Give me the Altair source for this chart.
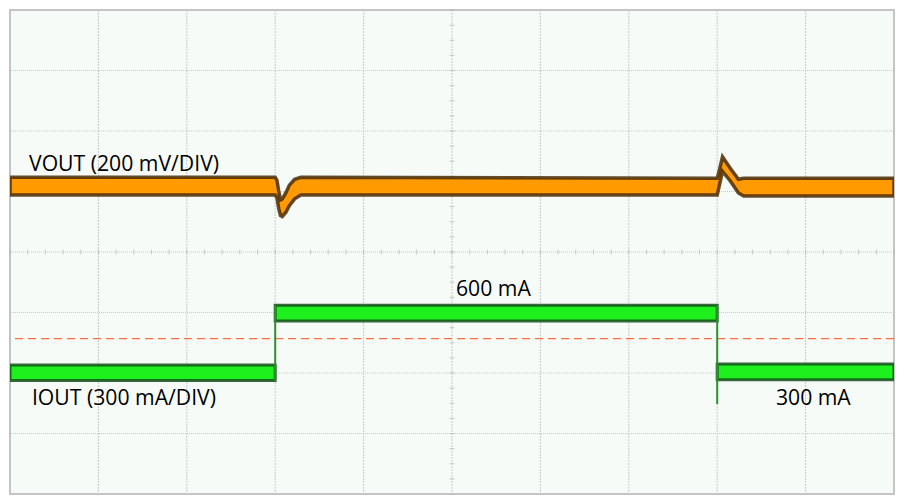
import altair as alt
import pandas as pd

# ---- data (in screen divisions: x 0..10, y 0..8) ----
# VOUT trace band: time, upper edge, lower edge
vout_t   = [0.0, 3.0, 3.02, 3.04, 3.06, 3.08, 3.12, 3.16, 3.22, 3.29, 8.0, 8.01, 8.06, 8.15, 8.24, 8.30, 10.0]
vout_top = [5.234, 5.234, 5.186, 5.008, 4.863, 4.879, 4.976, 5.105, 5.202, 5.234, 5.218, 5.267, 5.573, 5.380, 5.202, 5.218, 5.218]
vout_bot = [4.943, 4.943, 4.895, 4.717, 4.604, 4.588, 4.653, 4.766, 4.879, 4.943, 4.943, 5.008, 5.331, 5.170, 4.976, 4.927, 4.927]

# IOUT trace band: segments
iout_seg = ["low1", "low1", "high", "high", "low2", "low2"]
iout_t   = [0.0, 3.0, 3.0, 8.0, 8.0, 10.0]
iout_top = [2.132, 2.132, 3.118, 3.118, 2.149, 2.149]
iout_bot = [1.874, 1.874, 2.859, 2.859, 1.890, 1.890]

# load-step edges: time, from, to
step_t    = [3.0, 8.0]
step_from = [1.874, 1.486]
step_to   = [3.118, 3.118]

trigger_level = [2.569]

label_text = ["VOUT (200 mV/DIV)", "IOUT (300 mA/DIV)", "600 mA", "300 mA"]
label_x    = [0.215, 0.248, 5.045, 8.664]
label_y    = [5.347, 1.470, 3.280, 1.470]

vgrid = [1, 2, 3, 4, 5, 6, 7, 8, 9]
hgrid = [1, 2, 3, 4, 5, 6, 7]
xminor = [round(i * 0.2, 2) for i in range(51)]
yminor = [round(i * 0.25, 2) for i in range(33)]
center_x = 5
center_y = 4

xs = alt.Scale(domain=[0, 10], nice=False, zero=False)
ys = alt.Scale(domain=[0, 8], nice=False, zero=False)

grid_col = "#c9c9c9"

vg = alt.Chart(pd.DataFrame({"x": vgrid})).mark_rule(
    color=grid_col, strokeDash=[2, 1], strokeWidth=1
).encode(x=alt.X("x:Q", scale=xs, axis=None))

hg = alt.Chart(pd.DataFrame({"y": hgrid})).mark_rule(
    color=grid_col, strokeDash=[1, 1], strokeWidth=1
).encode(y=alt.Y("y:Q", scale=ys, axis=None))

xt = alt.Chart(pd.DataFrame({"x": xminor, "y": [center_y] * len(xminor)})).mark_tick(
    orient="vertical", size=5, thickness=1, color="#b5b5b5"
).encode(x=alt.X("x:Q", scale=xs, axis=None), y=alt.Y("y:Q", scale=ys, axis=None))

yt = alt.Chart(pd.DataFrame({"y": yminor, "x": [center_x] * len(yminor)})).mark_tick(
    orient="horizontal", size=5, thickness=1, color="#b5b5b5"
).encode(y=alt.Y("y:Q", scale=ys, axis=None), x=alt.X("x:Q", scale=xs, axis=None))

trig = alt.Chart(pd.DataFrame({"y": trigger_level})).mark_rule(
    color="#ff6e3a", strokeDash=[8, 5], strokeWidth=1.3
).encode(y=alt.Y("y:Q", scale=ys, axis=None))

vout = alt.Chart(pd.DataFrame({"t": vout_t, "top": vout_top, "bot": vout_bot})).mark_area(
    color="#ff9a00", stroke="#4a2c06", strokeWidth=3.5, strokeOpacity=0.85, interpolate="linear",
    clip=True
).encode(
    x=alt.X("t:Q", scale=xs, axis=None),
    y=alt.Y("top:Q", scale=ys, axis=None),
    y2="bot:Q",
)

iout = alt.Chart(pd.DataFrame({"seg": iout_seg, "t": iout_t, "top": iout_top, "bot": iout_bot})).mark_area(
    color="#1ef01e", stroke="#14501a", strokeWidth=3, strokeOpacity=0.85, clip=True
).encode(
    x=alt.X("t:Q", scale=xs, axis=None),
    y=alt.Y("top:Q", scale=ys, axis=None),
    y2="bot:Q",
    detail="seg:N",
)

steps = alt.Chart(pd.DataFrame({"t": step_t, "a": step_from, "b": step_to})).mark_rule(
    color="#2f8f2f", strokeWidth=2
).encode(
    x=alt.X("t:Q", scale=xs, axis=None),
    y=alt.Y("a:Q", scale=ys, axis=None),
    y2="b:Q",
)

labels = alt.Chart(pd.DataFrame({"txt": label_text, "x": label_x, "y": label_y})).mark_text(
    align="left", baseline="alphabetic", font="Open Sans", fontSize=21.2, color="#000000"
).encode(
    x=alt.X("x:Q", scale=xs, axis=None),
    y=alt.Y("y:Q", scale=ys, axis=None),
    text="txt:N",
)

chart = alt.layer(vg, hg, xt, yt, trig, vout, iout, steps, labels).properties(
    width=888, height=488,
    autosize=alt.AutoSizeParams(type="fit", contains="padding"),
    padding={"left": 1, "top": 1, "right": 1, "bottom": 1},
    background="white",
).configure_view(
    stroke="#c4c4c4", strokeWidth=2, fill="#f7fbf8"
)

chart.save("out.html", embed_options={"renderer": "svg", "actions": False})
